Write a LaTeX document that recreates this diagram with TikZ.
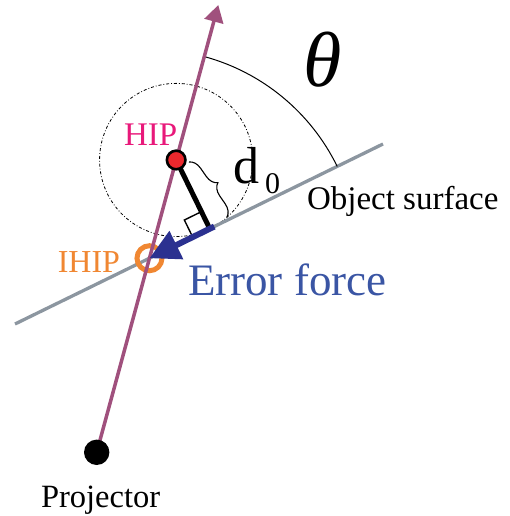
\documentclass[tikz,border=0pt]{standalone}
\usepackage{fontspec}
\setmainfont{Liberation Serif}
\usetikzlibrary{decorations.pathreplacing,arrows.meta,calc}
\definecolor{projc}{RGB}{160,80,125}
\definecolor{surfc}{RGB}{140,150,160}
\definecolor{hipc}{RGB}{232,25,122}
\definecolor{ihipc}{RGB}{240,135,50}
\definecolor{errc}{RGB}{43,49,144}
\definecolor{errtext}{RGB}{58,85,164}
\definecolor{hipfill}{RGB}{235,40,45}
\begin{document}
\begin{tikzpicture}[x=1pt,y=-1pt,
  txt/.style={inner sep=0pt,outer sep=0pt},
  dashdotline/.style={line width=0.8pt,dash pattern=on 3pt off 2pt on 0.8pt off 2pt}]
\useasboundingbox (0,0) rectangle (510,516);
\coordinate (P) at (96.7,452.3);
\coordinate (T) at (218.3,5);
\coordinate (S1) at (15,324);
\coordinate (S2) at (383,144);
\coordinate (IH) at (intersection of P--T and S1--S2);
\coordinate (H) at ($(P)!0.6535!(T)$);
\coordinate (F) at ($(S1)!(H)!(S2)$);
\coordinate (Q1) at ($(F)!19pt!(H)$);
\coordinate (Q2) at ($(F)!19pt!(IH)$);
\coordinate (Q3) at ($(Q1)+(Q2)-(F)$);
\coordinate (E0) at ($(F)!-5pt!(IH)$);
\coordinate (B1) at (189,162);
\coordinate (B2) at (227,217);
% dash-dot circle
\draw[dashdotline] (H) circle[radius=76.6];
% surface
\draw[surfc, line width=3.3pt] (S1) -- (S2);
% angle arc
\draw[line width=1pt] (IH) ++(-26.06:209) arc[start angle=-26.06, end angle=-74.79, radius=209];
% IHIP ring
\draw[ihipc, line width=5pt] (IH) circle[radius=12.5];
% projector line
\draw[projc, line width=3.5pt, -{Triangle[length=17pt,width=19pt]}] (P) -- (T);
% perpendicular
\draw[line width=5pt] (H) -- (F);
\draw[line width=1.4pt] (Q1) -- (Q3) -- (Q2);
% error force
\draw[errc, line width=6pt, -{Triangle[length=30pt,width=30pt]}] (E0) -- (IH);
% brace
\draw[decorate, decoration={brace, amplitude=12pt}, line width=1.1pt] (B1) -- (B2);
% dots
\draw[line width=2.6pt, fill=hipfill] (H) circle[radius=9.3];
\fill (P) circle[radius=12.7];
% labels
\node[txt, anchor=base west, text=hipc, font=\fontsize{33}{36}\selectfont] (hip) at (124,145) {HIP};
\node[txt, anchor=base east, text=ihipc, font=\fontsize{32}{36}\selectfont] (ihip) at (120,272) {IHIP};
\node[txt, anchor=base west, font=\fontsize{33}{36}\selectfont] (obj) at (307,209) {Object surface};
\node[txt, anchor=base west, text=errtext, font=\fontsize{45}{50}\selectfont] (err) at (188,295) {Error force};
\node[txt, anchor=base west, font=\fontsize{32.5}{36}\selectfont] (proj) at (41,507) {Projector};
\node[txt, anchor=base west, font=\fontsize{52}{56}\selectfont] (d) at (233,183) {d};
\node[txt, anchor=base west, font=\fontsize{30}{34}\selectfont] (d0) at (265,193) {0};
\node[txt, font=\fontsize{78}{80}\selectfont\itshape] (theta) at (323,60) {θ};
\end{tikzpicture}
\end{document}
